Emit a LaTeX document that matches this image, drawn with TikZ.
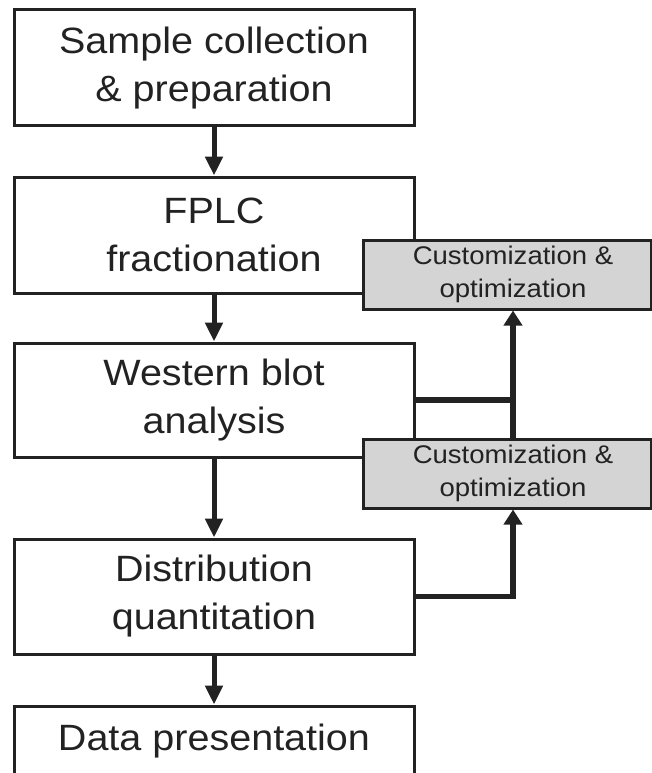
\documentclass[tikz,border=0pt]{standalone}
\usepackage{fontspec}
\setmainfont{Liberation Sans}[FakeStretch=1.08]
\usetikzlibrary{arrows.meta}
\definecolor{ink}{HTML}{222222}
\definecolor{boxgray}{HTML}{D4D4D4}
\begin{document}
\begin{tikzpicture}[x=1pt,y=-1pt,
  stepbox/.style={draw=ink, line width=3pt, minimum width=400pt, align=center,
    font=\fontsize{36.6}{48}\selectfont, text=ink, inner sep=0pt},
  custbox/.style={draw=ink, fill=boxgray, line width=3pt, align=center,
    font=\fontsize{25.5}{32.5}\selectfont, text=ink, inner sep=0pt,
    minimum width=288pt, minimum height=69pt},
  flow/.style={draw=ink, line width=5pt, -{Triangle[width=17pt,length=19pt]}},
  feed/.style={draw=ink, line width=5.5pt},
  feedarrow/.style={feed, -{Triangle[width=18pt,length=15pt]}},
]
\useasboundingbox (0,0) rectangle (652,773);
\node[stepbox, minimum height=116pt] (s1) at (214,68) {Sample collection\\\& preparation};
\node[stepbox, minimum height=116pt] (s2) at (214,235) {FPLC\\fractionation};
\node[stepbox, minimum height=114pt] (s3) at (214,400) {Western blot\\analysis};
\node[stepbox, minimum height=115pt] (s4) at (214,596.5) {Distribution\\quantitation};
\node[stepbox, minimum height=70pt] (s5) at (214,741) {Data presentation};

\node[custbox] (g1) at (507,274.5) {\hspace*{12pt}Customization \&\\\hspace*{12pt}optimization};
\node[custbox] (g2) at (507,473.5) {\hspace*{12pt}Customization \&\\\hspace*{12pt}optimization};

\draw[flow] (s1.south) -- (s2.north);
\draw[flow] (s2.south) -- (s3.north);
\draw[flow] (s3.south) -- (s4.north);
\draw[flow] (s4.south) -- (s5.north);

\coordinate (j1) at (513,400);
\draw[feed] (s3.east) -- (j1);
\draw[feedarrow] (g2.north -| j1) -- (g1.south -| j1);
\draw[feedarrow] (s4.east) -| (g2.south -| j1);
\end{tikzpicture}
\end{document}
